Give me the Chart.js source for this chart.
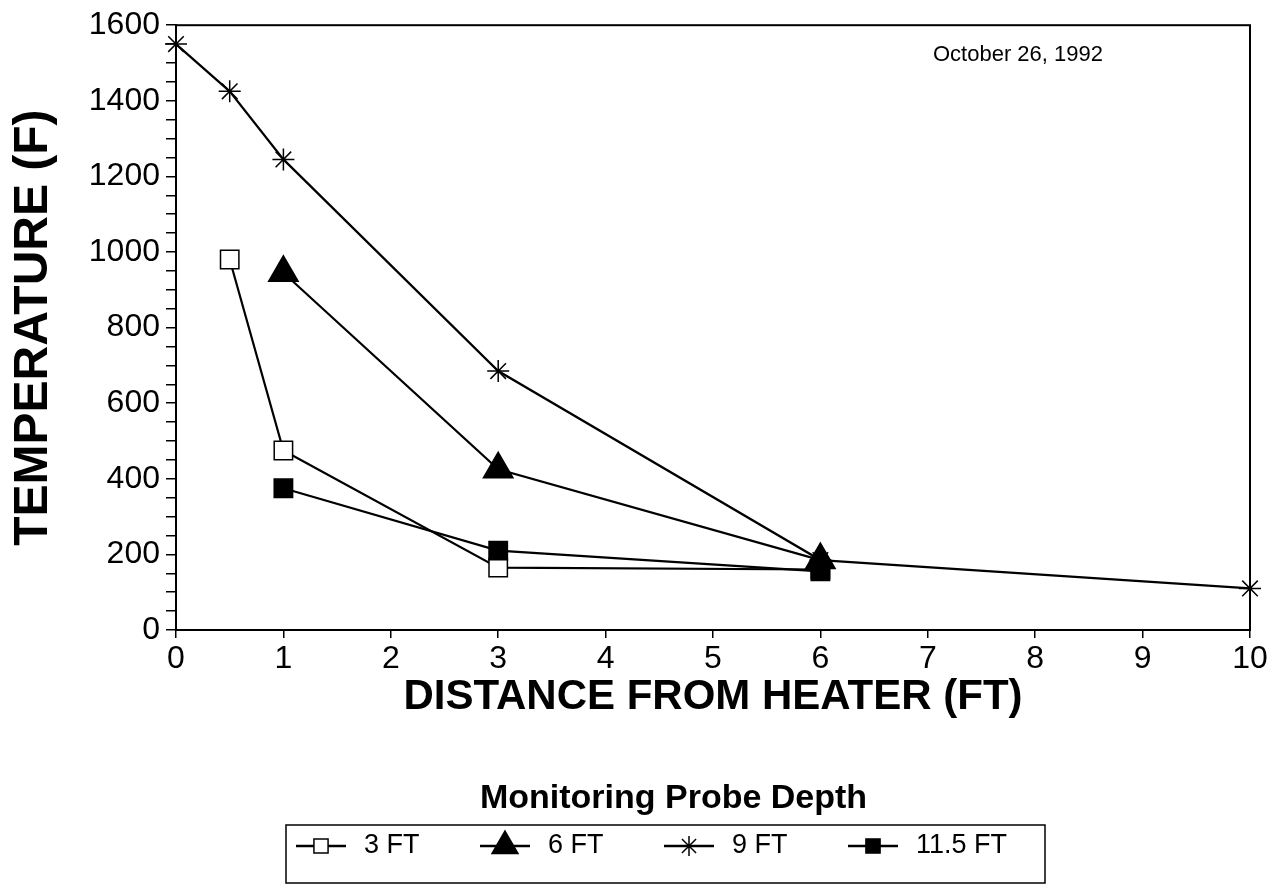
<!DOCTYPE html>
<html>
<head>
<meta charset="utf-8">
<script src="https://cdn.jsdelivr.net/npm/chart.js@4.4.1/dist/chart.umd.min.js"></script>
<style>
  html, body { margin: 0; padding: 0; background: #fff; }
</style>
</head>
<body>
<canvas id="tempChart" width="1274" height="888"></canvas>
<script>
// --- data ---
const dist3ft = [0.5, 1, 3, 6];
const temp3ft = [980, 475, 165, 160];

const dist6ft = [1, 3, 6];
const temp6ft = [945, 425, 185];

const dist9ft = [0, 0.5, 1, 3, 6, 10];
const temp9ft = [1550, 1425, 1245, 685, 185, 110];

const dist115ft = [1, 3, 6];
const temp115ft = [375, 210, 155];

const seriesNames = ["3 FT", "6 FT", "9 FT", "11.5 FT"];
const xTickValues = [0, 1, 2, 3, 4, 5, 6, 7, 8, 9, 10];
const yTickLabels = [0, 200, 400, 600, 800, 1000, 1200, 1400, 1600];
const dateNote = "October 26, 1992";
const legendTitle = "Monitoring Probe Depth";

const FONT = "'Liberation Sans', Arial, Helvetica, sans-serif";
const NARROW = "'Liberation Sans Narrow', 'Arial Narrow', 'Liberation Sans', sans-serif";

function pts(xs, ys) {
    return xs.map((x, i) => ({ x: x, y: ys[i] }));
}

// marker look per series (used by chart and by the legend)
const markers = [
    { pointStyle: "rect", radius: 13, legendRadius: 10, fill: "#fff" },
    { pointStyle: "triangle", radius: 17, legendRadius: 15, fill: "#000" },
    { pointStyle: "star", radius: 11, legendRadius: 10, fill: "#000" },
    { pointStyle: "rect", radius: 13, legendRadius: 10, fill: "#000" }
];

const seriesData = [
    pts(dist3ft, temp3ft),
    pts(dist6ft, temp6ft),
    pts(dist9ft, temp9ft),
    pts(dist115ft, temp115ft)
];
const drawOrder = [3, 1, 2, 0]; // lower = drawn on top

const datasets = seriesNames.map((name, i) => ({
    label: name,
    data: seriesData[i],
    borderColor: "#000",
    borderWidth: 2.2,
    backgroundColor: markers[i].fill,
    pointStyle: markers[i].pointStyle,
    pointRadius: markers[i].radius,
    pointBorderWidth: 1.5,
    pointBorderColor: "#000",
    pointBackgroundColor: markers[i].fill,
    tension: 0,
    clip: false,
    order: drawOrder[i]
}));

// frame, date note and boxed legend
const extrasPlugin = {
    id: "extras",
    afterDraw(chart) {
        const c = chart.ctx;
        const a = chart.chartArea;
        c.save();
        c.strokeStyle = "#000";
        c.lineWidth = 2;
        c.strokeRect(a.left, a.top, a.right - a.left, a.bottom - a.top);

        c.fillStyle = "#000";
        c.font = "22px " + FONT;
        c.textAlign = "right";
        c.textBaseline = "middle";
        c.fillText(dateNote, 1103, 55);

        // legend
        const box = { left: 286, top: 825, right: 1045, bottom: 883 };
        c.font = "bold 34px " + FONT;
        c.textAlign = "center";
        c.textBaseline = "alphabetic";
        c.fillText(legendTitle, (box.left + box.right) / 2 + 8, 808);

        c.lineWidth = 1.5;
        c.strokeRect(box.left, box.top, box.right - box.left, box.bottom - box.top);

        const midY = 846;
        chart.data.datasets.forEach((ds, i) => {
            const start = 296 + 184 * i;
            const len = 50;
            c.lineWidth = 2.5;
            c.strokeStyle = "#000";
            c.beginPath();
            c.moveTo(start, midY);
            c.lineTo(start + len, midY);
            c.stroke();

            c.fillStyle = markers[i].fill;
            c.lineWidth = 1.5;
            Chart.helpers.drawPoint(c, {
                pointStyle: markers[i].pointStyle,
                radius: markers[i].legendRadius,
                rotation: 0,
                borderWidth: 1.5
            }, start + len / 2, midY);

            c.fillStyle = "#000";
            c.font = "27px " + NARROW;
            c.textAlign = "left";
            c.textBaseline = "middle";
            c.fillText(ds.label, start + 68, midY);
        });
        c.restore();
    }
};

new Chart(document.getElementById("tempChart"), {
    type: "line",
    data: { datasets: datasets },
    options: {
        responsive: false,
        animation: false,
        layout: { padding: { left: 0, right: 24, top: 20, bottom: 165 } },
        plugins: {
            legend: { display: false },
            tooltip: { enabled: false }
        },
        scales: {
            x: {
                type: "linear",
                min: 0,
                max: 10,
                afterFit(scale) { scale.height = 93; },
                afterBuildTicks(scale) { scale.ticks = xTickValues.map(v => ({ value: v })); },
                border: { display: true, color: "#000", width: 2 },
                grid: { drawOnChartArea: false, drawTicks: true, tickLength: 8, color: "#000", lineWidth: 1.5 },
                ticks: {
                    color: "#000",
                    padding: 2,
                    autoSkip: false,
                    maxRotation: 0,
                    font: { family: FONT, size: 32 }
                },
                title: {
                    display: true,
                    text: "DISTANCE FROM HEATER (FT)",
                    color: "#000",
                    padding: { top: 0, bottom: 0 },
                    font: { family: FONT, size: 42, weight: "bold" }
                }
            },
            y: {
                min: 0,
                max: 1600,
                afterFit(scale) { scale.width = 176; },
                border: { display: true, color: "#000", width: 2 },
                grid: { drawOnChartArea: false, drawTicks: true, tickLength: 10, color: "#000", lineWidth: 1.5 },
                ticks: {
                    stepSize: 50,
                    autoSkip: false,
                    color: "#000",
                    padding: 6,
                    font: { family: FONT, size: 32 },
                    callback: v => (yTickLabels.includes(v) ? String(v) : "")
                },
                title: {
                    display: true,
                    text: "TEMPERATURE (F)",
                    color: "#000",
                    padding: { top: 5, bottom: 0 },
                    font: { family: FONT, size: 48, weight: "bold" }
                }
            }
        }
    },
    plugins: [extrasPlugin]
});
</script>
</body>
</html>
